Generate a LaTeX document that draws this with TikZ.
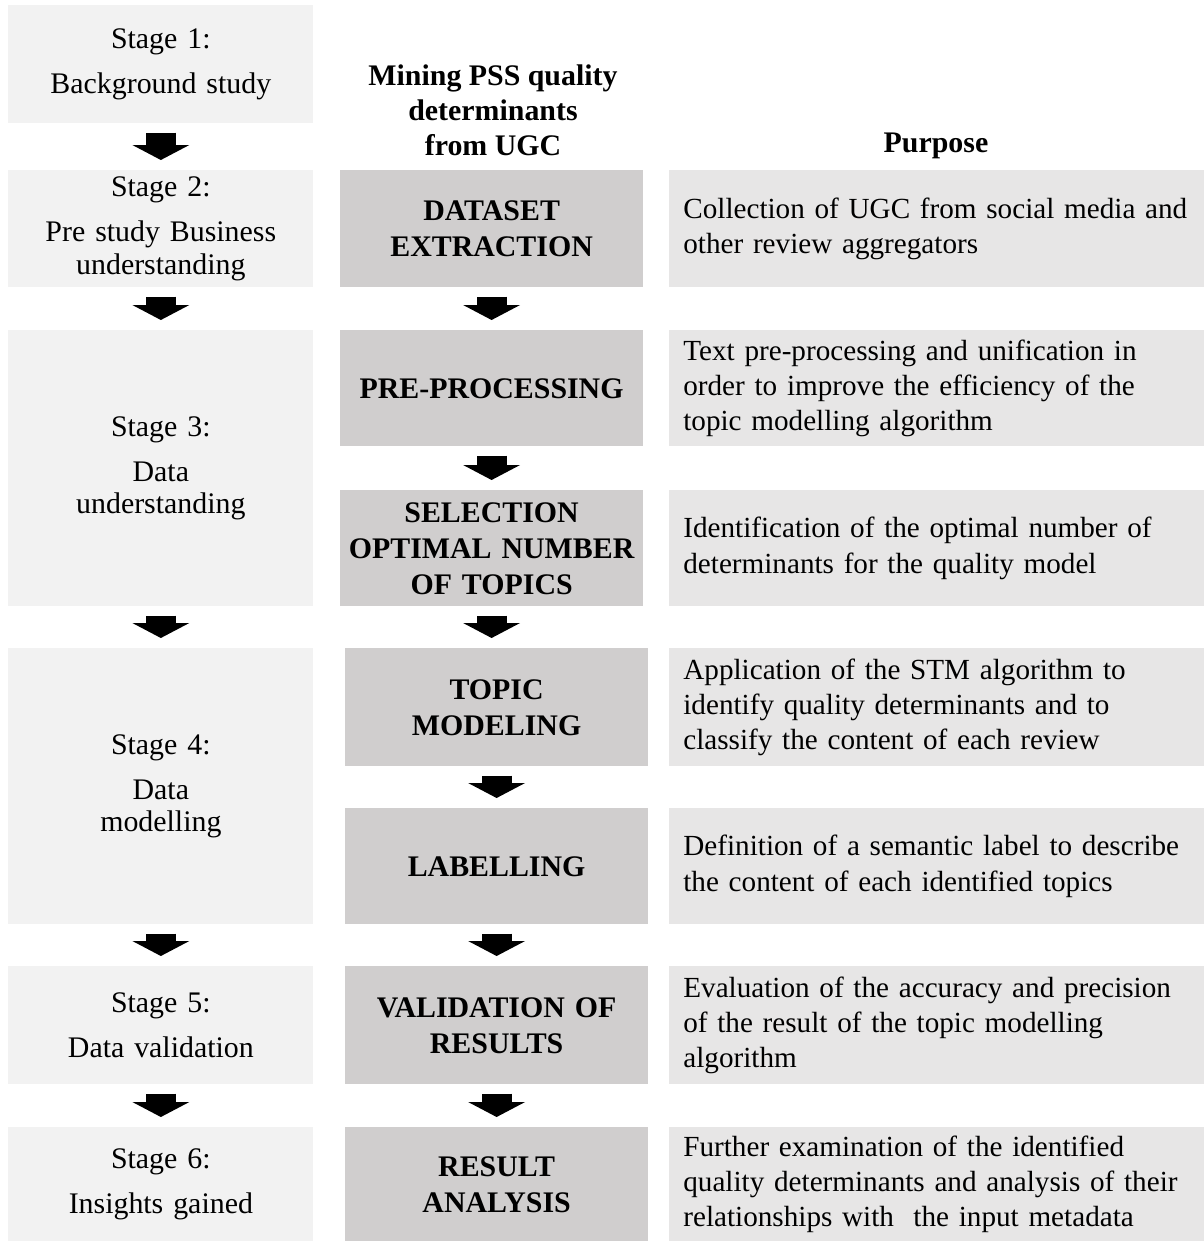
\documentclass[tikz,border=0pt]{standalone}
\usepackage{fontspec}
\setmainfont{Liberation Serif}
\usetikzlibrary{arrows.meta}
\definecolor{stagegray}{HTML}{F2F2F2}
\definecolor{stepgray}{HTML}{D0CECE}
\definecolor{purposegray}{HTML}{E7E6E6}
\hyphenpenalty=10000

\begin{document}
\begin{tikzpicture}[font=\fontsize{17}{20}\selectfont,
	stage/.style={fill=stagegray, anchor=north west, inner sep=0pt, text width=6.1cm, align=center, font=\fontsize{17}{18.5}\selectfont},
	mining/.style={fill=stepgray, anchor=north west, inner sep=0pt, text width=6.05cm, align=center, font=\fontsize{17}{20.5}\selectfont\bfseries},
	purpose/.style={fill=purposegray, anchor=north west, inner xsep=0.28cm, inner ysep=0pt, text width=10.6cm, align=left, font=\fontsize{16.6}{20}\selectfont},
	blockarr/.style={line width=0.6cm, -{Triangle[width=1.14cm, length=0.3cm, line width=0pt]}, shorten <=0.18cm, shorten >=0.2cm}]
	\useasboundingbox (0,0) rectangle (24.06,-24.82);
	\node[stage, minimum height=2.36cm] (s1) at (0.16,-0.10) {Stage 1:\\[7pt] Background study};
	\node[stage, minimum height=2.34cm] (s2) at (0.16,-3.40) {Stage 2:\\[7pt] Pre study Business\\ understanding};
	\node[stage, minimum height=5.52cm] (s3) at (0.16,-6.60) {Stage 3:\\[7pt] Data\\ understanding};
	\node[stage, minimum height=5.52cm] (s4) at (0.16,-12.96) {Stage 4:\\[7pt] Data\\ modelling};
	\node[stage, minimum height=2.36cm] (s5) at (0.16,-19.32) {Stage 5:\\[7pt] Data validation};
	\node[stage, minimum height=2.28cm] (s6) at (0.16,-22.54) {Stage 6:\\[7pt] Insights gained};
	\node[font=\fontsize{17}{20}\selectfont\bfseries, align=center] (head) at (9.86,-2.20) {Mining PSS quality\\ determinants\\ from UGC};
	\node[font=\fontsize{17}{20}\selectfont\bfseries] (purp) at (18.72,-2.92) {Purpose};
	\node[mining, minimum height=2.34cm] (m1) at (6.80,-3.40) {DATASET\\ EXTRACTION};
	\node[mining, minimum height=2.32cm] (m2) at (6.80,-6.60) {PRE-PROCESSING};
	\node[mining, minimum height=2.32cm] (m3) at (6.80,-9.80) {SELECTION\\ OPTIMAL NUMBER\\ OF TOPICS};
	\node[mining, minimum height=2.36cm] (m4) at (6.90,-12.96) {TOPIC\\ MODELING};
	\node[mining, minimum height=2.32cm] (m5) at (6.90,-16.16) {LABELLING};
	\node[mining, minimum height=2.36cm] (m6) at (6.90,-19.32) {VALIDATION OF\\ RESULTS};
	\node[mining, minimum height=2.28cm] (m7) at (6.90,-22.54) {RESULT\\ ANALYSIS};
	\node[purpose, minimum height=2.34cm] (p1) at (13.38,-3.40) {Collection of UGC from social media and\\ other review aggregators};
	\node[purpose, minimum height=2.32cm] (p2) at (13.38,-6.60) {Text pre-processing and unification in\\ order to improve the efficiency of the\\ topic modelling algorithm};
	\node[purpose, minimum height=2.32cm] (p3) at (13.38,-9.80) {Identification of the optimal number of\\ determinants for the quality model};
	\node[purpose, minimum height=2.36cm] (p4) at (13.38,-12.96) {Application of the STM algorithm to\\ identify quality determinants and to\\ classify the content of each review};
	\node[purpose, minimum height=2.32cm] (p5) at (13.38,-16.16) {Definition of a semantic label to describe\\ the content of each identified topics};
	\node[purpose, minimum height=2.36cm] (p6) at (13.38,-19.32) {Evaluation of the accuracy and precision\\ of the result of the topic modelling\\ algorithm};
	\node[purpose, minimum height=2.28cm] (p7) at (13.38,-22.54) {Further examination of the identified\\ quality determinants and analysis of their\\ relationships with\ \ the input metadata};
	\draw[blockarr] (s1.south) -- (s2.north);
	\draw[blockarr] (s2.south) -- (s3.north);
	\draw[blockarr] (s3.south) -- (s4.north);
	\draw[blockarr] (s4.south) -- (s5.north);
	\draw[blockarr] (s5.south) -- (s6.north);
	\draw[blockarr] (m1.south) -- (m2.north);
	\draw[blockarr] (m2.south) -- (m3.north);
	\draw[blockarr] (m3.south) -- (m3.south |- m4.north);
	\draw[blockarr] (m4.south) -- (m5.north);
	\draw[blockarr] (m5.south) -- (m6.north);
	\draw[blockarr] (m6.south) -- (m7.north);
\end{tikzpicture}
\end{document}
